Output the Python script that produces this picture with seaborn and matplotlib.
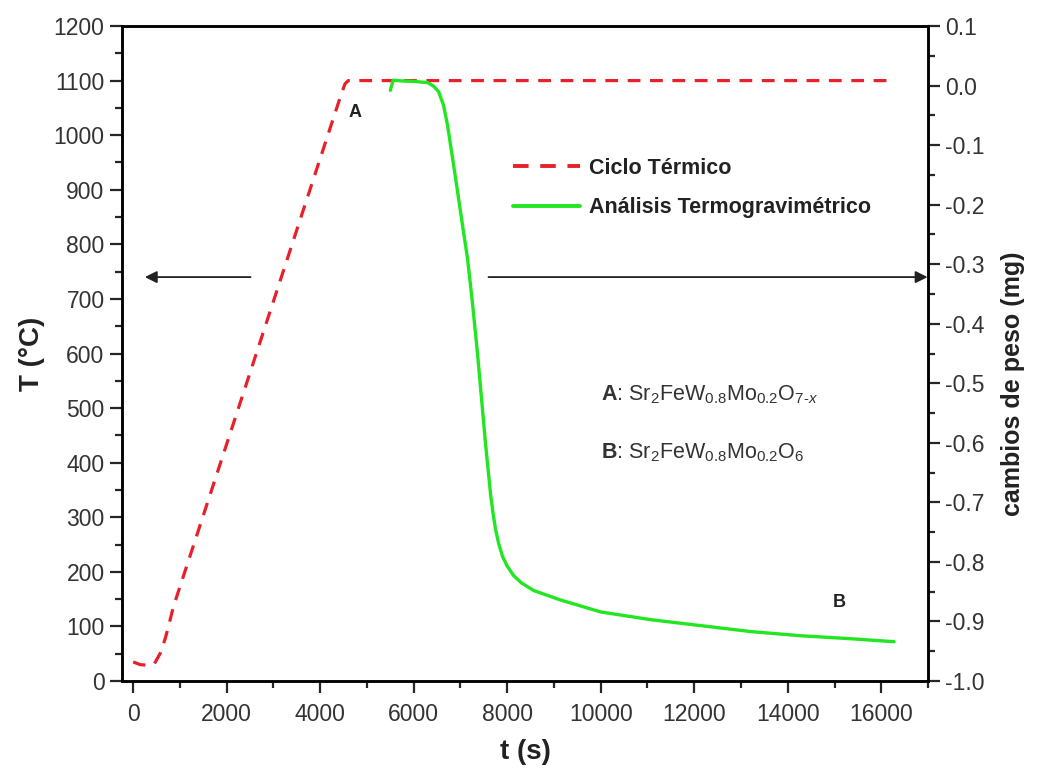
import numpy as np
import pandas as pd
import matplotlib
matplotlib.use("Agg")
import matplotlib.pyplot as plt
from matplotlib.ticker import MultipleLocator, FormatStrFormatter
from matplotlib.lines import Line2D
import seaborn as sns

# thermal cycle (left axis)
t_ciclo = [0, 150, 300, 450, 580, 690, 790, 860, 4450, 4530, 4600, 16150]
T_ciclo = [35, 30, 29, 31, 51, 79, 112, 136, 1075, 1094, 1100, 1100]

# TGA weight change (right axis)
t_tga = [5500, 5560, 5700, 6000, 6300, 6424, 6531, 6638, 6724, 6831, 6938, 7045,
         7152, 7259, 7366, 7452, 7537, 7645, 7700, 7752, 7820, 7901, 8000, 8137,
         8300, 8565, 9143, 9572, 10000, 11071, 12141, 13212, 14283, 15353, 16274]
w_tga = [-0.008, 0.009, 0.008, 0.007, 0.005, -0.001, -0.010, -0.033, -0.067,
         -0.122, -0.178, -0.235, -0.291, -0.367, -0.451, -0.527, -0.602, -0.687,
         -0.720, -0.746, -0.770, -0.791, -0.807, -0.823, -0.835, -0.848, -0.864,
         -0.874, -0.884, -0.897, -0.907, -0.917, -0.924, -0.929, -0.934]

ciclo = pd.DataFrame({"t": t_ciclo, "T": T_ciclo})
tga = pd.DataFrame({"t": t_tga, "w": w_tga})

sns.set_style("ticks")
plt.rcParams['font.family'] = ['Liberation Sans', 'DejaVu Sans']
plt.rcParams['mathtext.fontset'] = 'custom'
plt.rcParams['mathtext.rm'] = 'Liberation Sans'
plt.rcParams['mathtext.it'] = 'Liberation Sans:italic'
plt.rcParams['mathtext.bf'] = 'Liberation Sans:bold'
plt.rcParams['axes.unicode_minus'] = False

red = "#e8202a"
green = "#22e622"

fig, ax = plt.subplots(figsize=(10.37, 7.76), dpi=100)
fig.subplots_adjust(left=0.1176, right=0.8949, top=0.9665, bottom=0.1224)
ax2 = ax.twinx()

sns.lineplot(data=ciclo, x="t", y="T", ax=ax, color=red, linewidth=2.3,
             linestyle=(0, (4, 3)), sort=False)
sns.lineplot(data=tga, x="t", y="w", ax=ax2, color=green, linewidth=2.4, sort=False)

ax.set_xlim(-240, 17000)
ax.set_ylim(0, 1200)
ax2.set_ylim(-1.0, 0.1)

ax.xaxis.set_major_locator(MultipleLocator(2000))
ax.xaxis.set_minor_locator(MultipleLocator(1000))
ax.yaxis.set_major_locator(MultipleLocator(100))
ax.yaxis.set_minor_locator(MultipleLocator(50))
ax2.yaxis.set_major_locator(MultipleLocator(0.1))
ax2.yaxis.set_minor_locator(MultipleLocator(0.05))
ax2.yaxis.set_major_formatter(FormatStrFormatter('%.1f'))

for a in (ax, ax2):
    a.tick_params(which='major', length=8.5, width=1.6, direction='out',
                  labelsize=16.5, labelcolor='#333333', pad=4)
    a.tick_params(which='minor', length=5, width=1.6, direction='out')
    for s in a.spines.values():
        s.set_visible(True)
        s.set_linewidth(1.8)
        s.set_color('black')
ax.tick_params(axis='x', which='major', pad=7)
ax.tick_params(axis='y', which='both', right=False)
ax2.tick_params(axis='y', which='both', left=False, right=True)

ax.set_xlabel("t (s)", fontsize=20, fontweight='bold', color='#222222', labelpad=10)
ax.set_ylabel("T (°C)", fontsize=20, fontweight='bold', color='#222222', labelpad=6)
ax2.set_ylabel("cambios de peso (mg)", fontsize=18, fontweight='bold',
               color='#222222')
ax2.yaxis.label.set(ha='center', va='center')
ax2.yaxis.set_label_coords((1013 - 122) / 806, (681 - 384) / 655)

# arrows pointing to each axis
ax.annotate("", xy=(190, 740), xytext=(2570, 740),
            arrowprops=dict(arrowstyle='-|>', color='#222222', lw=1.3,
                            mutation_scale=18), annotation_clip=False)
ax.annotate("", xy=(17050, 740), xytext=(7540, 740),
            arrowprops=dict(arrowstyle='-|>', color='#222222', lw=1.3,
                            mutation_scale=18), annotation_clip=False)

ax.text(4754, 1042, "A", fontsize=13, fontweight='bold', color='#222222',
        ha='center', va='center')
ax.text(15096, 143, "B", fontsize=13, fontweight='bold', color='#222222',
        ha='center', va='center')

ax.text(10000, 524, r"$\mathbf{A}$: Sr$_2$FeW$_{0.8}$Mo$_{0.2}$O$_{7\text{-}x}$",
        fontsize=15.5, color='#333333', ha='left', va='center')
ax.text(10000, 419, r"$\mathbf{B}$: Sr$_2$FeW$_{0.8}$Mo$_{0.2}$O$_6$",
        fontsize=15.5, color='#333333', ha='left', va='center')

handles = [Line2D([], [], color=red, lw=2.8, linestyle=(0, (4, 3))),
           Line2D([], [], color=green, lw=2.8)]
labels = ["Ciclo Térmico", "Análisis Termogravimétrico"]
leg = ax2.legend(handles, labels, loc='center left', frameon=False,
                 bbox_to_anchor=(513 / 1037, 1 - 188 / 776),
                 bbox_transform=fig.transFigure, borderaxespad=0, borderpad=0,
                 handlelength=3.1, handletextpad=0.45, labelspacing=0.85,
                 prop={'size': 15.5, 'weight': 'bold'})
for txt in leg.get_texts():
    txt.set_color('#222222')

fig.savefig("out.png", dpi=100)
